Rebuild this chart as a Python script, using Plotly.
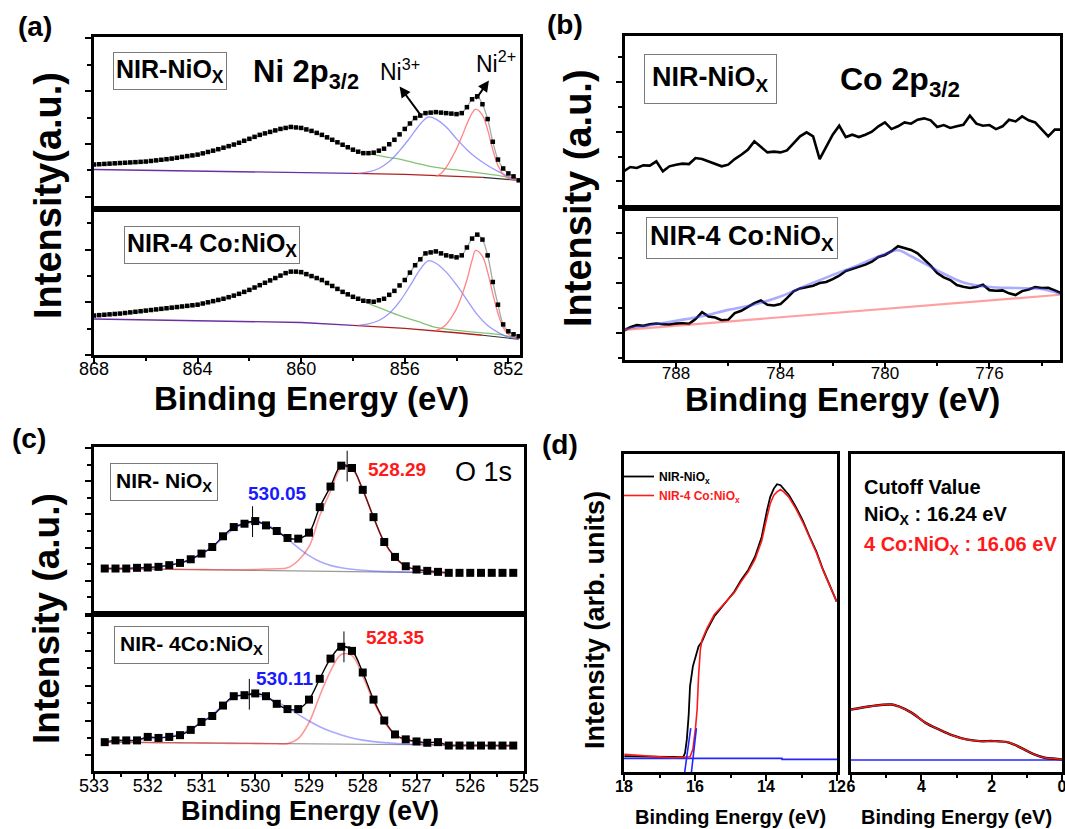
import plotly.graph_objects as go

W, H = 1065, 829
FONT = "Liberation Sans, Arial, sans-serif"

# ---------------- (a) Ni 2p3/2 ----------------
E_A = [868.0, 867.8, 867.6, 867.4, 867.2, 867.0, 866.8, 866.6, 866.4, 866.2,
       866.0, 865.8, 865.6, 865.4, 865.2, 865.0, 864.8, 864.6, 864.4, 864.2,
       864.0, 863.8, 863.6, 863.4, 863.2, 863.0, 862.8, 862.6, 862.4, 862.2,
       862.0, 861.8, 861.6, 861.4, 861.2, 861.0, 860.8, 860.6, 860.4, 860.2,
       860.0, 859.8, 859.6, 859.4, 859.2, 859.0, 858.8, 858.6, 858.4, 858.2,
       858.0, 857.8, 857.6, 857.4, 857.2, 857.0, 856.8, 856.6, 856.4, 856.2,
       856.0, 855.8, 855.6, 855.4, 855.2, 855.0, 854.8, 854.6, 854.4, 854.2,
       854.0, 853.8, 853.6, 853.4, 853.2, 853.0, 852.8, 852.6, 852.4, 852.2,
       852.0, 851.8, 851.6]
A_UP = [45.0, 45.3, 45.6, 45.9, 46.2, 46.5, 46.8, 47.1, 47.4, 47.7,
        48.0, 48.6, 49.2, 49.8, 50.4, 51.0, 51.8, 52.7, 53.5, 54.2,
        55.0, 56.3, 57.7, 59.0, 60.5, 62.0, 63.6, 65.2, 67.0, 69.0,
        71.0, 73.0, 75.0, 76.5, 78.0, 79.5, 81.0, 82.0, 83.0, 82.5,
        82.0, 80.5, 79.0, 77.0, 75.0, 72.5, 70.0, 67.5, 65.0, 62.5,
        60.0, 58.0, 56.5, 56.5, 57.0, 59.0, 61.0, 65.5, 70.0, 75.5,
        81.0, 86.5, 92.0, 94.5, 97.0, 97.5, 98.0, 97.5, 97.0, 96.5,
        96.0, 97.0, 103.0, 111.0, 114.0, 106.0, 91.0, 68.0, 50.0, 41.0,
        36.0, 33.0, 29.0]
A_LO = [40.0, 40.4, 40.8, 41.2, 41.6, 42.0, 42.6, 43.2, 43.8, 44.4,
        45.0, 45.6, 46.2, 46.8, 47.4, 48.0, 48.6, 49.2, 49.8, 50.4,
        51.0, 52.2, 53.4, 54.6, 55.8, 57.0, 58.6, 60.2, 62.0, 64.0,
        66.0, 68.4, 70.8, 73.2, 75.6, 78.0, 80.5, 83.0, 84.5, 84.5,
        84.0, 82.0, 80.0, 78.0, 76.0, 73.0, 70.0, 67.0, 64.0, 61.5,
        59.0, 57.0, 55.0, 54.5, 54.0, 55.5, 57.0, 61.0, 65.0, 70.5,
        76.0, 83.5, 91.0, 97.0, 103.0, 104.0, 105.0, 103.0, 101.0, 100.0,
        99.0, 101.0, 109.0, 118.0, 122.0, 117.0, 101.0, 74.0, 51.0, 31.0,
        24.0, 21.0, 19.0]
A_BASE_E = [868, 864, 860, 858, 856, 854, 853, 852, 851.6]
A_BASE_UP = [40, 38.5, 37.5, 36, 35, 33, 32, 30, 29]
A_BASE_LO = [36.5, 35, 33, 30, 27, 22.5, 20, 17.5, 16]
A_GREEN_E = [868, 866, 864, 863, 862, 861, 860.4, 859.6, 858.8, 858, 857.6, 857.2,
             856.8, 856.2, 855.5, 854.8, 854.0, 853.0, 852.4, 851.6]
A_GREEN_UP = [44.5, 47.5, 54.5, 61.5, 70.5, 79, 82.5, 78.5, 69.5, 59.5, 56.5, 55,
              53, 50.5, 46, 42, 39.5, 36, 34, 30]
A_GREEN_LO = [39.5, 44.5, 50.5, 56.5, 65.5, 77.5, 84, 79.5, 69.5, 58.5, 55, 50,
              46, 40, 34, 28, 25, 22.5, 21, 17]
A_BLUE_E = [857.8, 857.4, 857.0, 856.6, 856.2, 855.8, 855.4, 855.1, 854.8, 854.4,
            854.0, 853.6, 853.2, 852.8, 852.4, 852.0, 851.6]
A_BLUE_UP = [36, 37.5, 41, 48, 59, 72, 86, 93, 91, 83, 71, 60, 51, 44, 38, 33, 30]
A_BLUE_LO = [30, 31.5, 35, 42, 54, 70, 87, 95.5, 93, 84, 71, 56, 41, 30, 23, 18, 16]
A_RED_E = [854.8, 854.6, 854.4, 854.2, 854.0, 853.8, 853.6, 853.4, 853.26, 853.0,
           852.8, 852.6, 852.4, 852.2, 852.0, 851.6]
A_RED_UP = [33, 36, 42, 51, 61, 73, 86, 97, 101, 95, 80, 60, 44, 35, 31, 29]
A_RED_LO = [25, 27, 31, 38, 47, 60, 76, 96, 106, 100, 84, 62, 42, 28, 21, 17]

# ---------------- (b) Co 2p3/2 ----------------
E_B = [790.0, 789.75, 789.5, 789.25, 789.0, 788.75, 788.5, 788.25, 788.0, 787.75,
       787.5, 787.25, 787.0, 786.75, 786.5, 786.25, 786.0, 785.75, 785.5, 785.25,
       785.0, 784.75, 784.5, 784.25, 784.0, 783.75, 783.5, 783.25, 783.0, 782.75,
       782.5, 782.25, 782.0, 781.75, 781.5, 781.25, 781.0, 780.75, 780.5, 780.25,
       780.0, 779.75, 779.5, 779.25, 779.0, 778.75, 778.5, 778.25, 778.0, 777.75,
       777.5, 777.25, 777.0, 776.75, 776.5, 776.25, 776.0, 775.75, 775.5, 775.25,
       775.0, 774.75, 774.5, 774.25, 774.0, 773.75, 773.5, 773.25]
B_UP = [37.3, 41.7, 40.7, 43.4, 43.1, 47.5, 37.3, 42.4, 44.1, 45.1,
        44.7, 50.8, 49.8, 47.5, 45.1, 42.4, 44.1, 49.8, 54.2, 59.3,
        67.8, 62.0, 56.6, 57.3, 56.6, 58.6, 65.4, 72.9, 77.0, 72.9,
        49.8, 62.7, 74.6, 83.7, 72.2, 74.6, 72.2, 74.6, 77.6, 83.1,
        87.1, 80.3, 83.1, 87.1, 85.8, 89.8, 91.2, 89.2, 82.4, 84.4,
        81.4, 83.1, 84.7, 93.9, 85.8, 83.7, 84.4, 80.3, 83.1, 89.8,
        88.1, 93.2, 89.2, 87.1, 79.7, 72.9, 79.7, 79.7]
B_LO = [29.8, 33.2, 35.3, 34.6, 36.3, 36.9, 36.3, 35.9, 36.9, 37.3,
        36.6, 41.4, 48.5, 44.1, 43.1, 40.3, 40.7, 47.5, 49.8, 53.6,
        57.6, 60.3, 55.9, 55.3, 56.6, 62.7, 69.5, 72.5, 73.9, 75.3,
        78.0, 79.0, 82.0, 85.4, 90.2, 92.2, 94.9, 96.6, 99.7, 104.4,
        106.4, 110.2, 115.3, 113.2, 111.5, 108.1, 101.7, 95.6, 88.1, 83.7,
        81.0, 75.9, 74.2, 72.9, 73.9, 76.3, 70.8, 70.2, 70.5, 67.5,
        65.8, 69.8, 71.5, 73.9, 72.9, 73.2, 70.5, 67.5]
B_FIT_E = [790, 789, 788, 787, 786, 785, 784, 783, 782, 781, 780, 779.5, 779,
           778, 777, 776, 775, 774, 773.3]
B_FIT = [31.2, 35.3, 39.7, 44.4, 50.8, 56.3, 64.4, 75.6, 86.1, 96.3, 107.5, 111.2,
         105.1, 90.8, 78.6, 73.9, 72.9, 71.9, 67.1]
B_BG_E = [790, 773.3]
B_BG = [30.5, 66.1]

# ---------------- (c) O 1s ----------------
E_C = [532.8, 532.6, 532.4, 532.2, 532.0, 531.8, 531.6, 531.4, 531.2, 531.0,
       530.8, 530.6, 530.4, 530.2, 530.0, 529.8, 529.6, 529.4, 529.2, 529.0,
       528.8, 528.6, 528.4, 528.2, 528.0, 527.8, 527.6, 527.4, 527.2, 527.0,
       526.8, 526.6, 526.4, 526.2, 526.0, 525.8, 525.6, 525.4, 525.2]
C_UP = [46.3, 46.3, 46.3, 47.0, 47.3, 48.0, 49.7, 52.0, 55.7, 61.5,
        68.2, 79.1, 88.5, 91.9, 94.6, 90.2, 84.5, 77.4, 76.7, 82.8,
        108.8, 129.7, 151.0, 148.6, 126.4, 98.6, 73.3, 58.1, 48.6, 45.3,
        43.9, 42.9, 41.9, 41.9, 41.9, 41.9, 41.9, 41.9, 41.9]
C_UP_BLUE = [46.3, 46.3, 46.3, 46.8, 47.2, 48.0, 49.5, 51.8, 55.5, 61.0,
             68.0, 77.5, 86.5, 91.5, 93.5, 91.0, 85.0, 76.5, 67.5, 59.5,
             53.5, 49.5, 47.0, 45.5, 44.5, 43.8, 43.3, 43.0, 42.8, 42.6,
             42.4, 42.2, 42.0]
C_UP_RED = [46.0, 46.0, 45.9, 45.8, 45.7, 45.6, 45.5, 45.4, 45.3, 45.2,
            45.1, 45.0, 45.0, 45.0, 45.2, 45.8, 46.0, 47.0, 54.5, 68.5,
            100.0, 125.0, 148.5, 148.0, 126.0, 98.5, 73.0, 57.5, 48.5, 45.0,
            43.5, 42.6, 42.1]
C_LO = [28.0, 29.7, 29.7, 29.7, 33.1, 32.1, 33.1, 34.8, 39.9, 47.6,
        53.4, 63.5, 72.6, 73.6, 75.3, 72.6, 65.2, 60.1, 60.1, 69.3,
        89.5, 109.1, 120.6, 116.6, 95.6, 69.3, 49.0, 35.5, 30.7, 28.7,
        27.4, 28.0, 24.7, 24.7, 24.7, 24.7, 24.7, 24.7, 24.7]
C_LO_BLUE = [28.0, 28.8, 29.4, 30.0, 31.0, 32.0, 33.5, 36.0, 40.5, 47.0,
             54.5, 64.0, 71.0, 73.5, 73.5, 71.0, 67.0, 61.5, 55.0, 48.5,
             43.0, 38.5, 35.0, 32.0, 30.0, 28.5, 27.5, 26.8, 26.2, 25.8,
             25.5, 25.2, 25.0, 24.8, 24.7, 24.6, 24.5, 24.4, 24.3]
C_LO_RED = [28.0, 27.9, 27.8, 27.7, 27.6, 27.5, 27.4, 27.3, 27.2, 27.1,
            27.0, 26.9, 26.8, 26.7, 26.6, 26.5, 26.5, 26.6, 31.5, 47.0,
            73.0, 97.0, 113.0, 112.0, 92.0, 67.5, 48.0, 35.0, 30.0, 28.0,
            26.5, 25.7, 25.2, 24.9, 24.7, 24.6, 24.5, 24.4, 24.3]
C_PEAKS_UP_E = [530.05, 528.29]
C_PEAKS_UP = [94.0, 150.5]
C_PEAKS_LO_E = [530.11, 528.35]
C_PEAKS_LO = [74.5, 120.5]

# ---------------- (d) UPS ----------------
D_BLK_E = [17.99, 17.29, 16.62, 16.33, 16.28, 16.23, 16.18, 16.14, 16.06, 15.99,
           15.90, 15.80, 15.66, 15.46, 15.27, 15.08, 14.89, 14.70, 14.50, 14.31,
           14.12, 13.97, 13.88, 13.78, 13.69, 13.59, 13.50, 13.35, 13.16, 12.97,
           12.77, 12.58, 12.39, 12.20, 12.01]
D_BLK = [16.0, 15.3, 14.7, 15.0, 19.3, 32.7, 56.0, 86.0, 106.0, 116.0,
         126.0, 131.0, 142.7, 156.0, 164.3, 172.7, 181.0, 192.7, 202.7, 216.0,
         236.0, 262.7, 276.0, 284.3, 288.7, 287.7, 284.3, 277.7, 266.0, 252.7,
         236.0, 221.0, 202.7, 186.0, 171.0]
D_RED_E = [17.99, 17.29, 16.62, 16.14, 16.06, 15.99, 15.94, 15.90, 15.85, 15.80,
           15.66, 15.46, 15.27, 15.08, 14.89, 14.70, 14.50, 14.31, 14.12, 13.97,
           13.88, 13.78, 13.69, 13.59, 13.50, 13.35, 13.16, 12.97, 12.77, 12.58,
           12.39, 12.20, 12.01]
D_RED = [17.7, 16.0, 14.3, 15.3, 22.7, 42.7, 62.7, 96.0, 122.7, 132.7,
         144.3, 157.7, 165.3, 173.3, 180.0, 191.0, 201.0, 213.3, 232.0, 256.0,
         269.3, 277.7, 281.0, 283.3, 281.0, 275.3, 264.3, 251.0, 235.3, 220.0,
         202.0, 186.0, 171.0]
D_TAN1_E = [16.29, 16.12]
D_TAN2_E = [16.10, 15.96]
D_TAN_I = [0.0, 44.0]
D_BASE_L_E = [18.0, 13.55, 13.55, 12.0]
D_BASE_L = [13.7, 13.7, 12.7, 12.7]
D_VB_E = [6.0, 5.44, 4.85, 4.66, 4.27, 3.88, 3.5, 3.11, 2.72, 2.34, 1.95, 1.56,
          1.37, 1.08, 0.79, 0.49, 0.2, 0.0]
D_VB = [62.7, 66.0, 67.7, 66.0, 59.3, 49.3, 42.7, 36.7, 32.7, 31.0, 31.0, 30.0,
        27.7, 22.7, 17.7, 14.3, 13.3, 12.7]
D_BASE_R_E = [6.0, 0.0]
D_BASE_R = [12.0, 12.0]

# ---------------- helpers ----------------
def fx(p):
    return p / W


def fy(p):
    return 1 - p / H


fig = go.Figure()


def line(x, y, ax, color, width=1.3, shape="linear", **kw):
    fig.add_trace(go.Scatter(x=x, y=y, mode="lines", xaxis=ax[0], yaxis=ax[1],
                             line=dict(color=color, width=width, shape=shape),
                             showlegend=kw.pop("showlegend", False), hoverinfo="skip", **kw))


def dots(x, y, ax, size, symbol="square"):
    fig.add_trace(go.Scatter(x=x, y=y, mode="markers", xaxis=ax[0], yaxis=ax[1],
                             marker=dict(symbol=symbol, size=size, color="black",
                                         line=dict(width=0)),
                             showlegend=False, hoverinfo="skip"))


# (a) panels
for ax, data, base, green, blue, red in [
    (("x", "y"), A_UP, A_BASE_UP, A_GREEN_UP, A_BLUE_UP, A_RED_UP),
    (("x2", "y2"), A_LO, A_BASE_LO, A_GREEN_LO, A_BLUE_LO, A_RED_LO),
]:
    line(A_BASE_E[:4], base[:4], ax, "#6b2fa0", 1.4)
    line(A_BASE_E[3:7], base[3:7], ax, "#b02020", 1.4)
    line(A_BASE_E[6:], base[6:], ax, "#303030", 1.2)
    line(A_GREEN_E, green, ax, "rgba(110,185,95,0.85)", 1.3, "spline")
    line(A_BLUE_E, blue, ax, "rgba(120,120,255,0.75)", 1.3, "spline")
    line(A_RED_E, red, ax, "rgba(255,110,110,0.85)", 1.3, "spline")
    line(E_A[60:], data[60:], ax, "#a8a8a8", 1.3, "spline")
    dots(E_A, data, ax, 4.5)

# (b) panels
line(E_B, B_UP, ("x3", "y3"), "black", 2.6)
line(E_B, B_LO, ("x4", "y4"), "black", 2.6)
line(B_FIT_E, B_FIT, ("x4", "y4"), "rgba(70,70,255,0.45)", 2.6, "spline")
line(B_BG_E, B_BG, ("x4", "y4"), "rgba(255,80,80,0.55)", 2.2)

# (c) panels
for ax, data, blue, red, pe, pv, n_fit in [
    (("x5", "y5"), C_UP, C_UP_BLUE, C_UP_RED, C_PEAKS_UP_E, C_PEAKS_UP, 33),
    (("x6", "y6"), C_LO, C_LO_BLUE, C_LO_RED, C_PEAKS_LO_E, C_PEAKS_LO, 39),
]:
    line([E_C[0], E_C[n_fit - 1]], [data[0], data[n_fit - 1]], ax, "#9a9a9a", 1.2)
    line(E_C[:n_fit], data[:n_fit], ax, "black", 1.4, "spline")
    line(E_C[:n_fit], blue[:n_fit], ax, "rgba(40,40,255,0.4)", 1.6, "spline")
    line(E_C[:n_fit], red[:n_fit], ax, "rgba(255,20,20,0.45)", 1.6, "spline")
    dots(E_C, data, ax, 8)
    fig.add_trace(go.Scatter(x=pe, y=pv, mode="markers", xaxis=ax[0], yaxis=ax[1],
                             marker=dict(symbol="line-ns", size=22,
                                         line=dict(color="black", width=1)),
                             showlegend=False, hoverinfo="skip"))
    fig.add_trace(go.Scatter(x=pe, y=pv, mode="markers", xaxis=ax[0], yaxis=ax[1],
                             marker=dict(symbol="line-ew", size=9,
                                         line=dict(color="black", width=1)),
                             showlegend=False, hoverinfo="skip"))

# (d) panels
line(D_BASE_L_E, D_BASE_L, ("x7", "y7"), "#2525ff", 1.6)
line(D_BLK_E, D_BLK, ("x7", "y7"), "black", 1.8, name="<b>NIR-NiO<sub>x</sub></b>",
     showlegend=True)
line(D_RED_E, D_RED, ("x7", "y7"), "#ff1a1a", 1.6,
     name="<b><span style='color:#ff1a1a'>NIR-4 Co:NiO<sub>x</sub></span></b>",
     showlegend=True)
line(D_TAN1_E, D_TAN_I, ("x7", "y7"), "#2525ff", 1.6)
line(D_TAN2_E, D_TAN_I, ("x7", "y7"), "#2525ff", 1.6)
line(D_BASE_R_E, D_BASE_R, ("x8", "y8"), "#2525ff", 1.6)
line(D_VB_E, D_VB, ("x8", "y8"), "black", 2.4, "spline")
line(D_VB_E, D_VB, ("x8", "y8"), "#ff1a1a", 1.5, "spline")


# ---------------- axes ----------------
def xaxis(left, right, rng, anchor, labels=True, tick0=0, dtick=1, mdtick=0.5,
          fsize=18, bold=False, lw=2.5, standoff=0):
    d = dict(domain=[fx(left), fx(right)], range=rng, anchor=anchor, showline=True,
             linecolor="black", linewidth=lw, mirror=True, showgrid=False,
             zeroline=False, fixedrange=True, automargin=False)
    if labels:
        tf = dict(size=fsize, family=FONT, color="black")
        if bold:
            tf["weight"] = "bold"
        d.update(ticks="outside", ticklen=6, tickwidth=2, tickcolor="black",
                 tick0=tick0, dtick=dtick, showticklabels=True, tickfont=tf,
                 ticklabelstandoff=standoff, ticklabeloverflow="allow",
                 minor=dict(ticks="outside", ticklen=3, tickwidth=2,
                            tickcolor="black", tick0=tick0, dtick=mdtick))
    else:
        d.update(ticks="", showticklabels=False)
    return d


def yaxis(top, bottom, rng, anchor, tick0=None, dtick=None, lw=2.5):
    d = dict(domain=[fy(bottom), fy(top)], range=rng, anchor=anchor, showline=True,
             linecolor="black", linewidth=lw, mirror=True, showgrid=False,
             zeroline=False, showticklabels=False, fixedrange=True, automargin=False)
    if tick0 is not None:
        d.update(ticks="outside", ticklen=6, tickwidth=2, tickcolor="black",
                 tick0=tick0, dtick=dtick,
                 minor=dict(ticks="outside", ticklen=4, tickwidth=2,
                            tickcolor="black", tick0=tick0, dtick=dtick / 2))
    else:
        d.update(ticks="")
    return d


A_L, A_R, A_T, A_M, A_B = 94, 520, 37, 209, 355
B_L, B_R, B_T, B_M, B_B = 625, 1060, 36, 208, 360
C_L, C_R, C_T, C_M, C_B = 94, 524, 447, 614, 771
D_L1, D_R1, D_L2, D_R2, D_T, D_B = 624, 837, 851, 1062, 454, 772

layout_axes = dict(
    xaxis=xaxis(A_L, A_R, [868, 851.55], "y", labels=False),
    yaxis=yaxis(A_T, A_M, [0, 174], "x", 12.3, 53.4),
    xaxis2=xaxis(A_L, A_R, [868, 851.55], "y2", tick0=868, dtick=4, mdtick=2,
                 standoff=-10),
    yaxis2=yaxis(A_M, A_B, [0, 148], "x2", 0, 53.4),
    xaxis3=xaxis(B_L, B_R, [789.95, 773.3], "y3", labels=False),
    yaxis3=yaxis(B_T, B_M, [0, 175], "x3", 27, 50.8),
    xaxis4=xaxis(B_L, B_R, [789.95, 773.3], "y4", tick0=788, dtick=4, mdtick=2,
                 fsize=17, standoff=-10),
    yaxis4=yaxis(B_M, B_B, [0, 154], "x4", 27, 50.8),
    xaxis5=xaxis(C_L, C_R, [533, 525], "y5", labels=False),
    yaxis5=yaxis(C_T, C_M, [0, 170], "x5", 33.8, 33.8),
    xaxis6=xaxis(C_L, C_R, [533, 525], "y6", tick0=533, dtick=1, mdtick=0.5,
                 fsize=18, standoff=-9),
    yaxis6=yaxis(C_M, C_B, [0, 152.4], "x6", 15.2, 33.8),
    xaxis7=xaxis(D_L1, D_R1, [18, 12], "y7", tick0=18, dtick=2, mdtick=1,
                 fsize=16, bold=True, standoff=-8),
    yaxis7=yaxis(D_T, D_B, [0, 319], "x7"),
    xaxis8=xaxis(D_L2, D_R2, [6, 0], "y8", tick0=6, dtick=2, mdtick=1,
                 fsize=16, bold=True, standoff=-8),
    yaxis8=yaxis(D_T, D_B, [0, 319], "x8"),
)

# ---------------- annotations ----------------
ann = []


def text(x, y, s, size, bold=True, color="black", angle=0, xanchor="center",
         box=False, pad=3):
    d = dict(x=fx(x), y=fy(y), xref="paper", yref="paper", showarrow=False,
             text=("<b>%s</b>" % s) if bold else s, textangle=angle,
             font=dict(size=size, family=FONT, color=color),
             xanchor=xanchor, yanchor="middle")
    if box:
        d.update(bordercolor="#7a7a7a", borderwidth=1, borderpad=pad, bgcolor="white")
    ann.append(d)


# panel letters
text(35, 27, "(a)", 28)
text(565, 25, "(b)", 28)
text(29, 438, "(c)", 28)
text(560, 444, "(d)", 28)

# axis titles
text(48, 196, "Intensity(a.u.)", 38, angle=-90)
text(311, 398, "Binding Energy (eV)", 33)
text(578, 198, "Intensity (a.u.)", 38, angle=-90)
text(842, 400, "Binding Energy (eV)", 33)
text(46, 619, "Intensity (a.u.)", 37, angle=-90)
text(310, 811, "Binding Energy (eV)", 27)
text(595, 620, "Intensity (arb. units)", 27, angle=-90)
text(730, 817, "Binding Energy (eV)", 20)
text(956, 817, "Binding Energy (eV)", 20)

# (a) labels
text(170, 71, "NIR-NiO<sub>X</sub>", 25, box=True, pad=2)
text(306, 74, "Ni 2p<sub>3/2</sub>", 31)
text(400, 70, "Ni<sup>3+</sup>", 23, bold=False)
text(496, 62, "Ni<sup>2+</sup>", 23, bold=False)
text(212, 245, "NIR-4 Co:NiO<sub>X</sub>", 25, box=True, pad=2)
for hx, hy, tx, ty in [(856.2, 124, 22, 30), (852.75, 130, -14, 20)]:
    ann.append(dict(x=hx, y=hy, xref="x", yref="y", ax=tx, ay=ty, text="",
                    showarrow=True, arrowhead=2, arrowsize=1.1, arrowwidth=2,
                    arrowcolor="black"))

# (b) labels
text(710, 79, "NIR-NiO<sub>X</sub>", 27, box=True, pad=7)
text(900, 81, "Co 2p<sub>3/2</sub>", 32)
text(742, 238, "NIR-4 Co:NiO<sub>X</sub>", 27, box=True, pad=3)

# (c) labels
text(164, 482, "NIR- NiO<sub>X</sub>", 21, box=True, pad=5)
text(277, 493, "530.05", 19, color="#1a1aff")
text(397, 469, "528.29", 19, color="#ff1a1a")
text(483, 472, "O 1s", 27, bold=False)
text(191, 645, "NIR- 4Co:NiO<sub>X</sub>", 21, box=True, pad=5)
text(395, 637, "528.35", 19, color="#ff1a1a")
text(284, 678, "530.11", 19, color="#1a1aff")

# (d) labels
text(862, 487, "Cutoff Value", 20, xanchor="left")
text(862, 515, "NiO<sub>X</sub> : 16.24 eV", 20, xanchor="left")
text(862, 545, "4 Co:NiO<sub>X</sub> : 16.06 eV", 20, color="#ff1a1a", xanchor="left")

fig.update_layout(
    template="none",
    width=W, height=H, margin=dict(l=0, r=0, t=0, b=0, autoexpand=False),
    paper_bgcolor="white", plot_bgcolor="white",
    font=dict(family=FONT, color="black"),
    annotations=ann,
    showlegend=True,
    legend=dict(x=fx(619), y=fy(462), xanchor="left", yanchor="top",
                bgcolor="rgba(0,0,0,0)", borderwidth=0, itemwidth=30,
                font=dict(size=12, family=FONT, color="black"),
                tracegroupgap=0, itemclick=False, itemdoubleclick=False),
    **layout_axes,
)

fig.write_html("out.html",
               config={"displayModeBar": False},
               post_script="document.body.style.margin='0';"
                           "document.body.style.padding='0';"
                           "document.body.style.overflow='hidden';")
